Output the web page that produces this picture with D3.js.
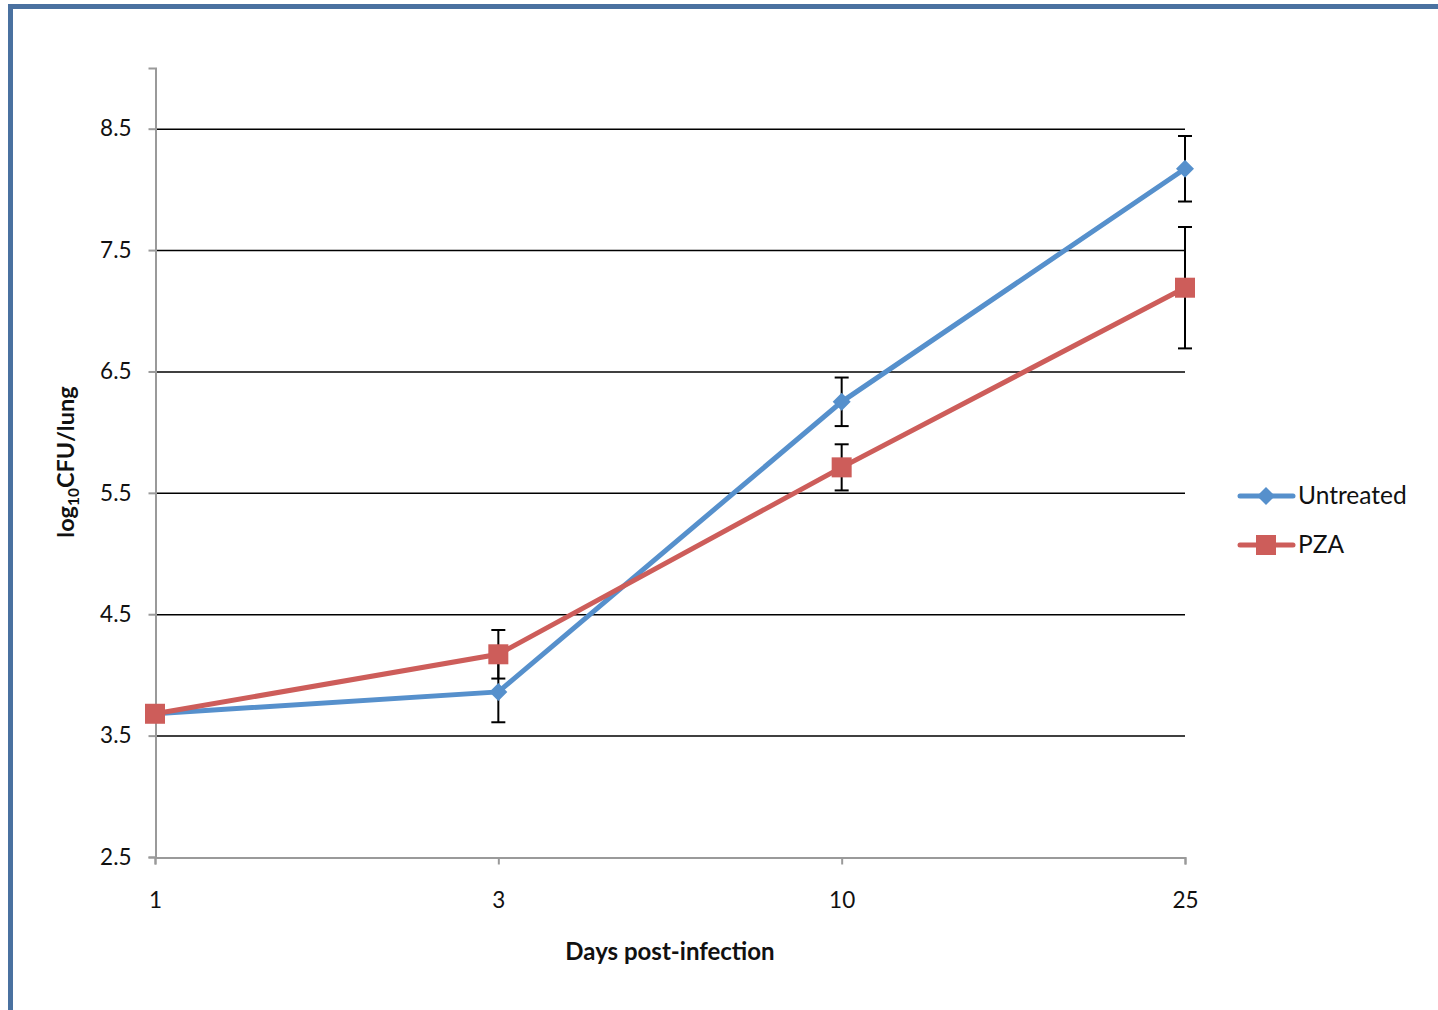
<!DOCTYPE html>
<html>
<head>
<meta charset="utf-8">
<script src="https://cdn.jsdelivr.net/npm/d3@7"></script>
<style>
  body { margin: 0; background: #fff; }
  svg { display: block; font-family: Lato, "Open Sans", sans-serif; }
</style>
</head>
<body>
<div id="container"></div>
<script>
// data
const days = ["1", "3", "10", "25"];
const untreated = [3.68, 3.86, 6.25, 8.17];
const untreatedErr = [0, 0.25, 0.2, 0.27];
const pza = [3.68, 4.17, 5.71, 7.19];
const pzaErr = [0, 0.2, 0.19, 0.5];
const yTicks = [2.5, 3.5, 4.5, 5.5, 6.5, 7.5, 8.5];

const width = 1438, height = 1010;
const blue = "#5690cc", red = "#cd5d5a";

const svg = d3.select("#container").append("svg")
    .attr("width", width)
    .attr("height", height);

// frame around the chart
svg.append("path")
    .attr("d", `M10.5,${height} L10.5,6.5 L${width},6.5`)
    .attr("fill", "none")
    .attr("stroke", "#4a71a0")
    .attr("stroke-width", 5);

const x = d3.scalePoint().domain(days).range([155, 1185]);
const y = d3.scaleLinear().domain([2.5, 9]).range([857, 68]);

// gridlines
svg.append("g")
    .selectAll("line")
    .data(yTicks.slice(1))
    .join("line")
    .attr("x1", 155).attr("x2", 1185)
    .attr("y1", d => y(d) + 0.5).attr("y2", d => y(d) + 0.5)
    .attr("stroke", "#000")
    .attr("stroke-width", 1.5);

// y axis
const yAxis = svg.append("g")
    .attr("transform", "translate(155.5,0)")
    .call(d3.axisLeft(y).tickValues(yTicks).tickSize(7).tickPadding(17).tickFormat(d3.format(".1f")));
yAxis.select(".domain").attr("stroke", "#9a9a9a").attr("stroke-width", 2);
yAxis.selectAll(".tick line").attr("stroke", "#9a9a9a").attr("stroke-width", 2);
yAxis.selectAll("text").attr("font-size", 22.5).attr("fill", "#111").attr("font-family", "Lato, sans-serif");

// x axis
const xAxis = svg.append("g")
    .attr("transform", "translate(0,857.5)")
    .call(d3.axisBottom(x).tickSize(7).tickPadding(28));
xAxis.select(".domain").attr("stroke", "#9a9a9a").attr("stroke-width", 2);
xAxis.selectAll(".tick line").attr("stroke", "#9a9a9a").attr("stroke-width", 2);
xAxis.selectAll("text").attr("font-size", 22.5).attr("fill", "#111").attr("font-family", "Lato, sans-serif");

// error bars
function errorBars(vals, errs) {
    const g = svg.append("g").attr("stroke", "#000").attr("stroke-width", 2);
    vals.forEach((v, i) => {
        if (!errs[i]) return;
        const cx = x(days[i]);
        g.append("line").attr("x1", cx).attr("x2", cx).attr("y1", y(v - errs[i])).attr("y2", y(v + errs[i]));
        [v - errs[i], v + errs[i]].forEach(e => {
            g.append("line").attr("x1", cx - 7).attr("x2", cx + 7).attr("y1", y(e)).attr("y2", y(e));
        });
    });
}
errorBars(untreated, untreatedErr);
errorBars(pza, pzaErr);

const line = d3.line().x((d, i) => x(days[i])).y(d => y(d));

// untreated series
svg.append("path")
    .attr("d", line(untreated))
    .attr("fill", "none").attr("stroke", blue).attr("stroke-width", 5);
svg.append("g").selectAll("path")
    .data(untreated)
    .join("path")
    .attr("transform", (d, i) => `translate(${x(days[i])},${y(d)})`)
    .attr("d", "M0,-9 L9,0 L0,9 L-9,0 Z")
    .attr("fill", blue);

// PZA series
svg.append("path")
    .attr("d", line(pza))
    .attr("fill", "none").attr("stroke", red).attr("stroke-width", 5);
svg.append("g").selectAll("rect")
    .data(pza)
    .join("rect")
    .attr("x", (d, i) => x(days[i]) - 10)
    .attr("y", d => y(d) - 10)
    .attr("width", 20).attr("height", 20)
    .attr("fill", red);

// legend
const legend = svg.append("g").attr("transform", "translate(1240,0)");
[["Untreated", blue, 496, "diamond"], ["PZA", red, 545, "square"]].forEach(([label, col, ly, shape]) => {
    legend.append("line").attr("x1", 0).attr("x2", 53).attr("y1", ly).attr("y2", ly)
        .attr("stroke", col).attr("stroke-width", 5).attr("stroke-linecap", "round");
    if (shape === "diamond") {
        legend.append("path").attr("transform", `translate(26,${ly})`)
            .attr("d", "M0,-9 L9,0 L0,9 L-9,0 Z").attr("fill", col);
    } else {
        legend.append("rect").attr("x", 16).attr("y", ly - 10).attr("width", 20).attr("height", 20).attr("fill", col);
    }
    legend.append("text").attr("x", 58).attr("y", ly + 8)
        .attr("font-size", 24.5).attr("fill", "#111").text(label);
});

// axis titles
const yTitle = svg.append("text")
    .attr("transform", "translate(74,462) rotate(-90)")
    .attr("text-anchor", "middle")
    .attr("font-size", 23.5).attr("font-weight", "bold").attr("fill", "#111");
yTitle.append("tspan").text("log");
yTitle.append("tspan").attr("font-size", 15.5).attr("dy", 5).text("10");
yTitle.append("tspan").attr("dy", -5).text("CFU/lung");

svg.append("text")
    .attr("x", 670).attr("y", 960)
    .attr("text-anchor", "middle")
    .attr("font-size", 24).attr("font-weight", "bold").attr("fill", "#111")
    .text("Days post-infection");
</script>
</body>
</html>
